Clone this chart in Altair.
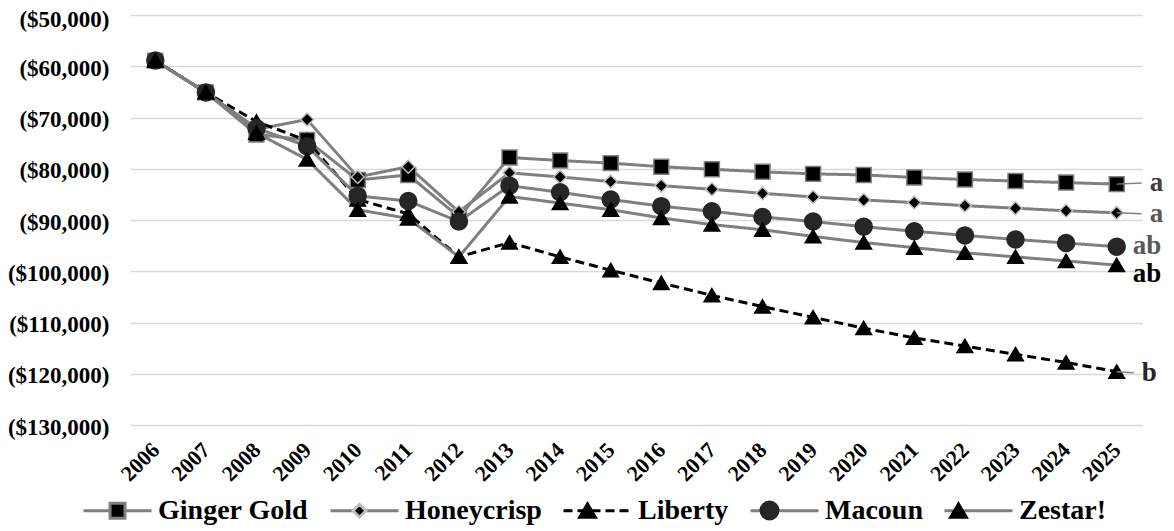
import altair as alt
import pandas as pd

FONT = "Liberation Serif"

years = ["2006", "2007", "2008", "2009", "2010", "2011", "2012", "2013", "2014", "2015",
         "2016", "2017", "2018", "2019", "2020", "2021", "2022", "2023", "2024", "2025"]

names = ["Ginger Gold", "Honeycrisp", "Liberty", "Macoun", "Zestar!"]

ginger_gold = [-58900, -65100, -73300, -74400, -82200, -81200, -89400, -77800, -78400, -78900,
               -79600, -80100, -80600, -81000, -81200, -81700, -82100, -82400, -82700, -83000]
honeycrisp = [-58900, -65100, -72300, -70400, -81600, -79600, -88400, -80800, -81600, -82500,
              -83300, -84000, -84800, -85500, -86100, -86600, -87200, -87700, -88200, -88600]
liberty = [-58900, -65100, -70800, -74500, -86000, -88800, -97200, -94400, -97200, -99800,
           -102300, -104700, -106900, -109000, -111100, -113000, -114600, -116200, -117800, -119600]
macoun = [-58900, -65100, -72100, -75600, -85300, -86300, -90300, -83300, -84600, -86000,
          -87300, -88300, -89400, -90300, -91300, -92200, -93000, -93800, -94500, -95200]
zestar = [-58900, -65100, -73000, -78200, -88000, -89700, -97200, -85400, -86700, -88000,
          -89600, -90900, -91900, -93200, -94400, -95400, -96400, -97200, -98000, -98800]

y_ticks = [-50000, -60000, -70000, -80000, -90000, -100000, -110000, -120000, -130000]

# significance letters at the end of each series
letters = ["a", "a", "b", "ab", "ab"]
letter_pos = [-82800, -88800, -119800, -95100, -100600]

series_values = [ginger_gold, honeycrisp, liberty, macoun, zestar]

rows = []
for name, vals in zip(names, series_values):
    for yr, v in zip(years, vals):
        rows.append({"year": yr, "series": name, "cultivar": name, "value": v})
df = pd.DataFrame(rows)

lab_rows = []
for name, vals, let, lp in zip(names, series_values, letters, letter_pos):
    lab_rows.append({"year": years[-1], "series": name, "value": vals[-1],
                     "letter": let, "labelValue": lp})
lab_df = pd.DataFrame(lab_rows)

# styles
line_colors = ["#7f7f7f", "#7f7f7f", "#000000", "#7f7f7f", "#7f7f7f"]
dashes = [[1, 0], [1, 0], [9, 5], [1, 0], [1, 0]]
marker_paths = [
    "M-0.22,-0.22H0.22V0.22H-0.22Z",
    "M0,-0.19L0.19,0L0,0.19L-0.19,0Z",
    "M0,-0.2L0.23,0.19L-0.23,0.19Z",
    "M-0.25,0A0.25,0.25,0,1,0,0.25,0A0.25,0.25,0,1,0,-0.25,0Z",
    "M0,-0.2L0.23,0.19L-0.23,0.19Z",
]
marker_fill = ["#000000", "#000000", "#000000", "#262626", "#000000"]
marker_stroke = ["#7f7f7f", "#bfbfbf", "#000000", "#262626", "#000000"]
label_colors = ["#404040", "#595959", "#262626", "#595959", "#000000"]
label_dx = [33, 33, 25, 16, 16]
leader = [True, True, True, False, False]

x_enc = alt.X(
    "year:O",
    scale=alt.Scale(type="point", padding=0.5, domain=years),
    axis=alt.Axis(title=None, labelAngle=-45, labelAlign="right", labelBaseline="middle",
                  labelPadding=21, ticks=False, tickSize=0, domain=False, grid=False,
                  labelFont=FONT, labelFontSize=22, labelFontWeight="bold",
                  labelColor="black"),
)
y_enc = alt.Y(
    "value:Q",
    scale=alt.Scale(domain=[-130000, -50000], nice=False, zero=False),
    axis=alt.Axis(title=None, values=y_ticks,
                  labelExpr="'($' + format(-datum.value, ',') + ')'",
                  grid=True, gridColor="#d9d9d9", gridWidth=1.6, ticks=False, tickSize=0,
                  domain=False, labelPadding=21,
                  labelOffset={"condition": {"test": "datum.value == -50000", "value": 4}, "value": 2},
                  labelFont=FONT, labelFontSize=23, labelFontWeight="bold",
                  labelColor="black"),
)

common_leg = dict(title=None, orient="none", legendX=-48, legendY=460, direction="horizontal",
                  symbolSize=4624, symbolStrokeWidth=3, labelFont=FONT, labelFontSize=28,
                  labelFontWeight="bold", labelColor="black", labelOffset=5,
                  columnPadding=15, padding=0, labelLimit=0)
leg_lines = alt.Legend(symbolType="M-1,0H1", zindex=1, **common_leg)
leg_marks = alt.Legend(labelOpacity=0, zindex=2, **common_leg)

base = alt.Chart(df)

lines = base.mark_line(strokeWidth=3).encode(
    x=x_enc, y=y_enc,
    color=alt.Color("series:N", scale=alt.Scale(domain=names, range=line_colors), legend=leg_lines),
    strokeDash=alt.StrokeDash("series:N", scale=alt.Scale(domain=names, range=dashes), legend=leg_lines),
)

# marker scales use the data-driven (alphabetical) domain of a copy column so that
# their legend stays separate from the line legend and is overlaid on it
points = base.mark_point(filled=True, opacity=1, size=4624, strokeWidth=1.5).encode(
    x=x_enc, y=y_enc,
    shape=alt.Shape("cultivar:N", sort="ascending", scale=alt.Scale(range=marker_paths), legend=leg_marks),
    fill=alt.Fill("cultivar:N", sort="ascending", scale=alt.Scale(range=marker_fill), legend=leg_marks),
    stroke=alt.Stroke("cultivar:N", sort="ascending", scale=alt.Scale(range=marker_stroke), legend=leg_marks),
)

layers = [lines, points]
lab_base = alt.Chart(lab_df)
for name, col, dx, has_leader in zip(names, label_colors, label_dx, leader):
    if has_leader:
        layers.append(
            lab_base.transform_filter(alt.datum.series == name)
            .mark_rule(color="#7f7f7f", strokeWidth=1.5, x2Offset=dx - 8)
            .encode(x=alt.X("year:O"), x2=alt.X2("year"), y=alt.Y("value:Q"), y2=alt.Y2("labelValue"))
        )
    layers.append(
        lab_base.transform_filter(alt.datum.series == name)
        .mark_text(align="left", baseline="middle", dx=dx, font=FONT, fontSize=27,
                   fontWeight="bold", color=col)
        .encode(x=alt.X("year:O"), y=alt.Y("labelValue:Q"), text="letter:N")
    )

chart = alt.layer(*layers).properties(
    width=1012, height=410,
    autosize=alt.AutoSizeParams(type="none"),
    padding={"left": 122, "top": 7, "right": 24, "bottom": 103},
    background="white",
).configure_view(stroke=None)

chart.save("out.html", embed_options={"renderer": "svg", "actions": False})
